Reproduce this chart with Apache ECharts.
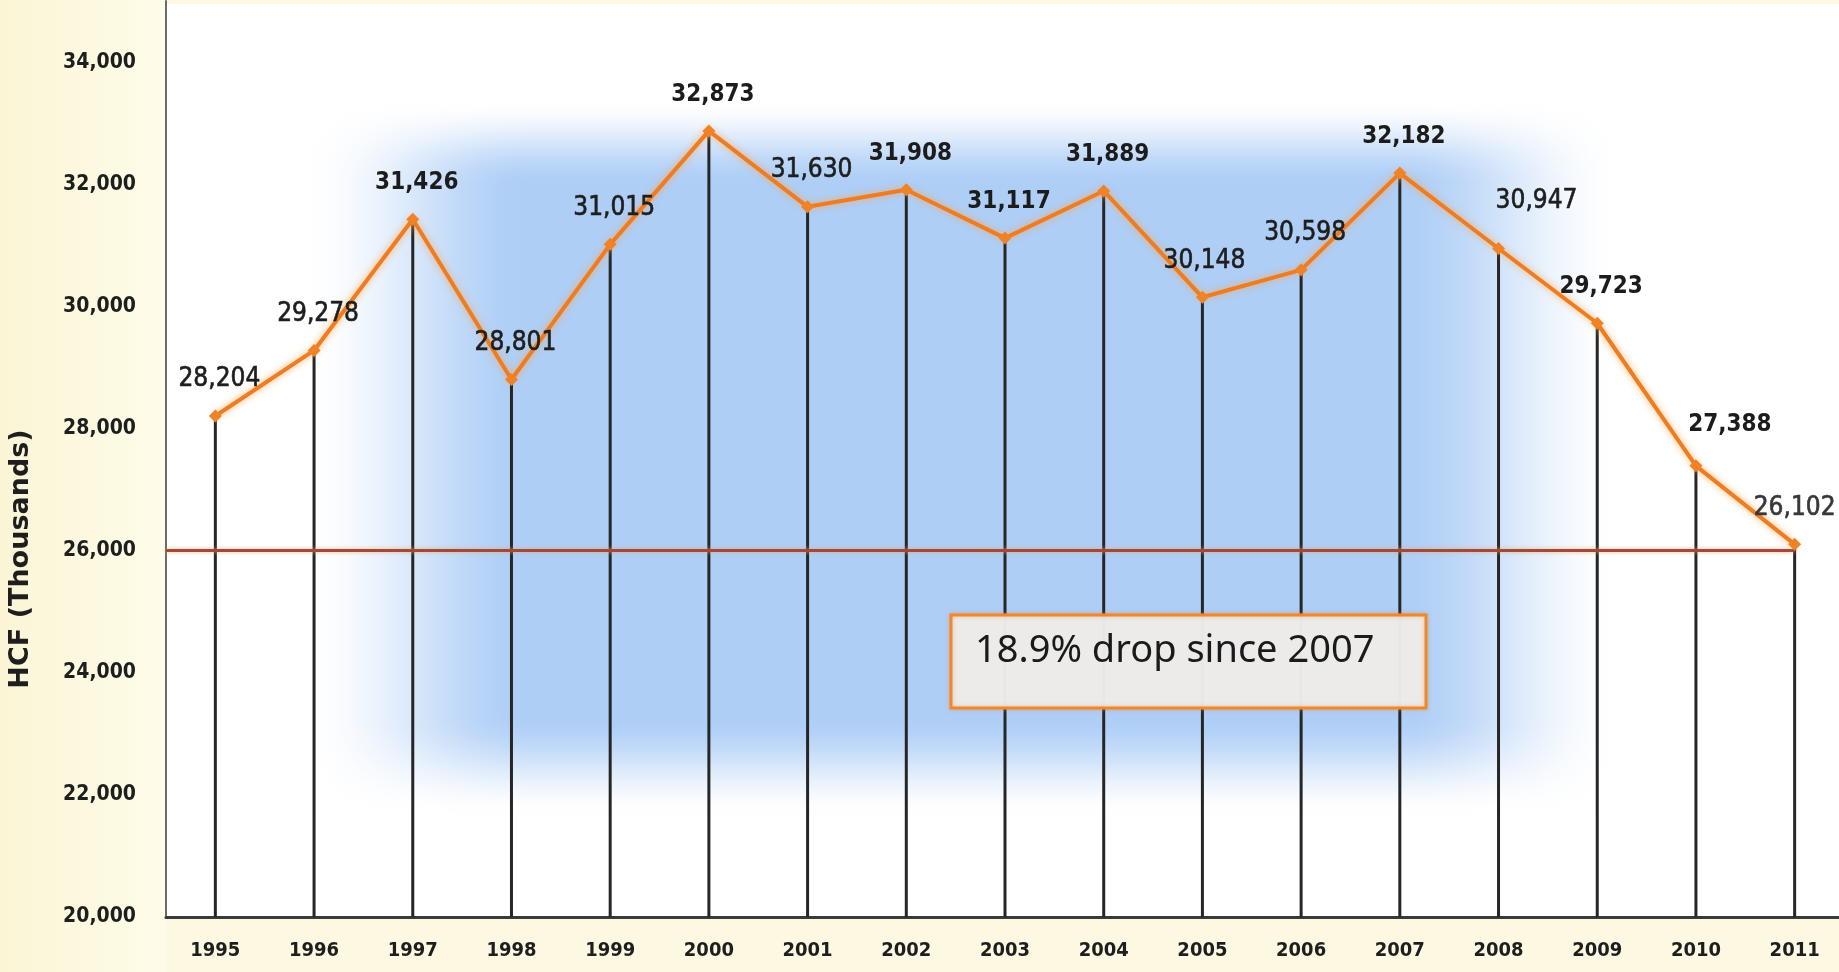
<!DOCTYPE html>
<html>
<head>
<meta charset="utf-8">
<title>HCF (Thousands) 1995-2011</title>
<script src="https://cdn.jsdelivr.net/npm/echarts@6/dist/echarts.min.js"></script>
<style>
  html, body { margin: 0; padding: 0; background: #fcf8e1; }
  #chart { width: 1839px; height: 972px; }
</style>
</head>
<body>
<div id="chart"></div>
<script>
// Annual water use, hundred cubic feet (thousands)
const years = ['1995', '1996', '1997', '1998', '1999', '2000', '2001', '2002', '2003',
               '2004', '2005', '2006', '2007', '2008', '2009', '2010', '2011'];
const hcf = [28204, 29278, 31426, 28801, 31015, 32873, 31630, 31908, 31117,
             31889, 30148, 30598, 32182, 30947, 29723, 27388, 26102];
// Years whose value labels are set in bold
const boldYears = ['1997', '2000', '2002', '2003', '2004', '2007', '2009', '2010'];
// Value axis range and tick step
const yMin = 20000;
const yMax = 35000;
const yStep = 2000;
// Reference level and the note about the recent decline
const referenceLevel = 26000;
const noteText = '18.9% drop since 2007';
const yTitle = 'HCF (Thousands)';

// Extra label offsets for labels that sit beside the line
const labelNudge = { '2008': [34, -11], '2010': [30, -5], '2011': [-4, 0], '2005': [-2, 0] };

const W = 1839, H = 972;
const gridLeft = 166, gridTop = 1, gridBottom = 55, gridRight = -5;
const plotBottom = H - gridBottom;

const blue = [174, 206, 246];

// Smooth fade in / hold / fade out colour stops for the glow band
function glowStops(a, b) {
  const stops = [];
  const n = 10;
  for (let k = 0; k <= n; k++) {
    const t = k / n;
    const s = t * t * (3 - 2 * t);
    stops.push({ offset: a * t, color: `rgba(${blue},${s.toFixed(3)})` });
  }
  for (let k = 0; k <= n; k++) {
    const t = k / n;
    const s = 1 - t * t * (3 - 2 * t);
    stops.push({ offset: b + (1 - b) * t, color: `rgba(${blue},${s.toFixed(3)})` });
  }
  return stops;
}
function whiteFade(reverse) {
  const stops = [];
  const n = 10;
  for (let k = 0; k <= n; k++) {
    const t = k / n;
    const s = 1 - t * t * (3 - 2 * t);
    stops.push({ offset: reverse ? 1 - t : t, color: `rgba(255,255,255,${s.toFixed(3)})` });
  }
  if (reverse) stops.reverse();
  return stops;
}

const chart = echarts.init(document.getElementById('chart'), null, { renderer: 'canvas' });

const labelFont = 'DejaVu Sans Condensed';

const lineData = hcf.map((v, i) => {
  const y = years[i];
  const nudge = labelNudge[y] || [0, 0];
  const bold = boldYears.includes(y);
  return {
    value: v,
    label: bold
      ? { fontWeight: 'bold', fontSize: 24, color: '#1c1c1c', offset: [4 + nudge[0], nudge[1]] }
      : {
          fontWeight: 'normal', fontSize: 26,
          color: y === '2011' ? '#383838' : '#1e1e1e',
          textBorderColor: y === '2011' ? '#383838' : '#1e1e1e', textBorderWidth: 0.6,
          offset: [4 + nudge[0], nudge[1] + 1]
        }
  };
});

const option = {
  backgroundColor: '#fcf8e1',
  animation: false,
  grid: {
    left: gridLeft, right: gridRight, top: gridTop, bottom: gridBottom,
    outerBoundsMode: 'none'
  },
  xAxis: [
    {
      type: 'category',
      data: years,
      boundaryGap: true,
      axisLine: { show: true, onZero: false, lineStyle: { color: '#3a3a3a', width: 3 } },
      axisTick: { show: false },
      axisLabel: {
        margin: 24,
        fontFamily: labelFont, fontWeight: 'bold', fontSize: 20, color: '#1e1e1e'
      },
      splitLine: { show: false }
    },
    {
      type: 'value',
      min: -0.5, max: years.length - 0.5,
      show: false
    }
  ],
  yAxis: {
    type: 'value',
    min: yMin, max: yMax, interval: yStep,
    axisLine: { show: true, onZero: false, lineStyle: { color: '#6a6a6a', width: 2 } },
    axisTick: { show: false },
    splitLine: { show: false },
    axisLabel: {
      margin: 30,
      fontFamily: labelFont, fontWeight: 'bold', fontSize: 21, color: '#1e1e1e',
      formatter: v => (v % yStep === 0 ? v.toLocaleString('en-US') : '')
    }
  },
  graphic: [
    // cream margin on the left
    {
      type: 'rect', z: -20, silent: true,
      shape: { x: 0, y: 0, width: gridLeft, height: H },
      style: {
        fill: new echarts.graphic.LinearGradient(0, 0, 1, 0, [
          { offset: 0, color: '#fbf5d6' }, { offset: 1, color: '#fefce9' }
        ])
      }
    },
    // white plot area
    {
      type: 'rect', z: -19, silent: true,
      shape: { x: gridLeft, y: 4, width: W - gridLeft, height: plotBottom - 4 },
      style: { fill: '#ffffff' }
    },
    // soft blue glow behind the middle years
    {
      type: 'rect', z: -18, silent: true,
      shape: { x: 305, y: 100, width: 1620 - 305, height: 815 - 100 },
      style: {
        fill: new echarts.graphic.LinearGradient(0, 0, 1, 0, glowStops(0.17, 0.83))
      }
    },
    {
      type: 'rect', z: -17, silent: true,
      shape: { x: gridLeft, y: 100, width: W - gridLeft, height: 85 },
      style: { fill: new echarts.graphic.LinearGradient(0, 0, 0, 1, whiteFade(false)) }
    },
    {
      type: 'rect', z: -17, silent: true,
      shape: { x: gridLeft, y: 715, width: W - gridLeft, height: 101 },
      style: { fill: new echarts.graphic.LinearGradient(0, 0, 0, 1, whiteFade(true)) }
    },
    // axis title
    {
      type: 'text', z: 10, silent: true,
      x: 21, y: 559, rotation: Math.PI / 2,
      style: {
        text: yTitle,
        fontFamily: 'DejaVu Sans', fontWeight: 'bold', fontSize: 27,
        fill: '#1e1e1e', align: 'center', verticalAlign: 'middle'
      }
    },
    // note box
    {
      type: 'group', z: 100,
      children: [
        {
          type: 'rect', z: 100,
          shape: { x: 951, y: 615, width: 475, height: 93 },
          style: {
            fill: 'rgba(236,236,236,0.97)', stroke: '#f0872c', lineWidth: 3,
            shadowBlur: 4, shadowColor: 'rgba(240,135,44,0.45)'
          }
        },
        {
          type: 'text', z: 101,
          x: 975, y: 651,
          style: {
            text: noteText,
            fontFamily: 'Noto Sans', fontSize: 38, fill: '#1a1a1a',
            align: 'left', verticalAlign: 'middle'
          }
        }
      ]
    }
  ],
  series: [
    {
      // drop lines from each year's value to the axis
      type: 'custom',
      xAxisIndex: 0,
      z: 1,
      silent: true,
      data: hcf.map((v, i) => [i, v]),
      renderItem(params, api) {
        const top = api.coord([api.value(0), api.value(1)]);
        const base = api.coord([api.value(0), yMin]);
        return {
          type: 'line',
          shape: { x1: top[0], y1: top[1], x2: base[0], y2: base[1] },
          style: { stroke: '#262626', lineWidth: 3 }
        };
      }
    },
    {
      // reference level
      type: 'line',
      xAxisIndex: 1,
      z: 2,
      silent: true,
      symbol: 'none',
      data: [[-0.5, referenceLevel], [years.length - 1, referenceLevel]],
      lineStyle: {
        color: '#a04a3e', width: 3,
        shadowBlur: 4, shadowColor: 'rgba(245,165,95,0.8)'
      }
    },
    {
      type: 'line',
      xAxisIndex: 0,
      z: 3,
      data: lineData,
      symbol: 'diamond',
      symbolSize: 13,
      itemStyle: { color: '#f08228' },
      lineStyle: {
        color: '#f07c22', width: 4,
        shadowBlur: 7, shadowColor: 'rgba(255,165,70,0.85)'
      },
      label: {
        show: true,
        position: 'top',
        distance: 18,
        fontFamily: labelFont,
        fontSize: 24,
        formatter: p => p.value.toLocaleString('en-US')
      }
    }
  ]
};

chart.setOption(option);
</script>
</body>
</html>
